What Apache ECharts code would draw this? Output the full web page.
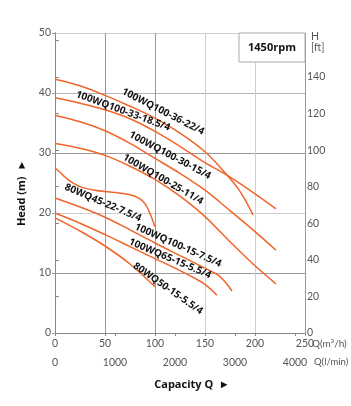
<!DOCTYPE html>
<html><head><meta charset="utf-8">
<script src="https://cdn.jsdelivr.net/npm/echarts@6/dist/echarts.min.js"></script>
<style>html,body{margin:0;padding:0;background:#fff}#c{width:351px;height:406px}</style>
</head><body><div id="c"></div>
<script>
// ---- data (Q in m3/h, H in m) ----
const seriesNames = ['100WQ100-36-22/4','100WQ100-33-18.5/4','100WQ100-30-15/4','100WQ100-25-11/4','80WQ45-22-7.5/4','100WQ100-15-7.5/4','100WQ65-15-5.5/4','80WQ50-15-5.5/4'];
const q36 = [0,25,50,75,100,125,150,170,185,198];
const h36 = [42.3,41.2,39.6,37.8,35.8,33.3,30.2,26.7,23.6,19.7];
const q33 = [0,25,50,75,100,125,150,172,200,221];
const h33 = [39.2,38.3,37.2,35.7,33.6,31.1,28.4,26.3,23.2,20.7];
const q30 = [0,25,50,75,100,125,150,175,200,221];
const h30 = [36.3,35.2,33.7,31.6,29.1,26.6,23.8,20.4,16.9,13.8];
const q25 = [0,25,50,75,100,125,150,175,200,221];
const h25 = [31.6,30.8,29.6,27.8,25.6,22.8,19.4,15.2,11.2,8.2];
const q45 = [0,5,10,15,25,40,55,70,80,87,92,96,100];
const h45 = [27.5,26.8,26.0,25.3,24.4,23.8,23.5,23.2,22.8,22.1,21.0,19.5,17.7];
const q15 = [0,25,50,75,100,125,150,165,177];
const h15 = [22.5,21.0,19.3,17.2,15.0,12.9,10.8,9.4,7.0];
const q65 = [0,25,50,75,100,125,140,150,162];
const h65 = [20.0,18.3,16.4,14.4,12.4,10.4,9.1,8.1,6.3];
const q50 = [0,25,50,75,100];
const h50 = [19.2,17.0,14.5,11.5,7.7];
const curvesQ = [q36,q33,q30,q25,q45,q15,q65,q50];
const curvesH = [h36,h33,h30,h25,h45,h15,h65,h50];
// axis ticks
const xTicksM3h = [0,50,100,150,200,250];
const xTicksLmin = [0,1000,2000,3000,4000];
const yTicksM = [0,10,20,30,40,50];
const yTicksFt = [0,20,40,60,80,100,120,140];
// curve label anchors in data units [Q, H, angleDeg]
const labelSpots = [[108,36.9,27],[68,37.0,20],[115,29.6,28],[108,25.6,30],[48,21.7,23],[123,14.6,24],[115,12.4,23],[113,7.4,35]];

const ORANGE = '#f0652a';
const FONT = '"Open Sans", sans-serif';
const AXF = 'Lato, sans-serif';
const chart = echarts.init(document.getElementById('c'), null, {renderer:'canvas'});
const series = curvesQ.map((qs,i)=>({
  type:'line', name:seriesNames[i], xAxisIndex:0, yAxisIndex:0,
  data: qs.map((q,j)=>[q,curvesH[i][j]]),
  smooth:0.35, showSymbol:false, symbol:'none',
  lineStyle:{color:ORANGE,width:1.5}, z:3, silent:true
}));
const lmMax = 250*1000/60;
const ftMax = 50/0.3048;
chart.setOption({
  animation:false,
  backgroundColor:'#fff',
  grid:{left:55,right:46,top:33,bottom:73,containLabel:false},
  xAxis:[{
    type:'value',min:xTicksM3h[0],max:xTicksM3h[xTicksM3h.length-1],interval:50,position:'bottom',
    axisLine:{show:true,lineStyle:{color:'#888',width:1}},
    axisTick:{show:true,length:3,lineStyle:{color:'#888'}},
    axisLabel:{color:'#555',fontSize:10.5,fontFamily:AXF,margin:5},
    splitLine:{show:true,lineStyle:{color:['#999','#999','#999','#cfcfcf','#cfcfcf','#999'],width:1}}
  },{
    type:'value',min:0,max:lmMax,interval:1000,position:'bottom',offset:19,
    axisLine:{show:true,lineStyle:{color:'#888',width:1}},
    axisTick:{show:true,length:3,lineStyle:{color:'#888'}},
    axisLabel:{color:'#555',fontSize:10.5,fontFamily:AXF,margin:5,showMaxLabel:false,
      formatter:v=> xTicksLmin.includes(Math.round(v)) ? String(Math.round(v)) : ''},
    splitLine:{show:false}
  }],
  yAxis:[{
    type:'value',min:0,max:50,interval:10,position:'left',
    axisLine:{show:true,lineStyle:{color:'#888',width:1}},
    axisTick:{show:true,length:3,lineStyle:{color:'#999'}},
    axisLabel:{color:'#555',fontSize:10.5,fontFamily:AXF,margin:4},
    splitLine:{show:true,lineStyle:{color:['#999','#999','#cfcfcf','#999','#b5b5b5','#cfcfcf'],width:1}}
  },{
    type:'value',min:0,max:ftMax,interval:20,position:'right',
    axisLine:{show:true,lineStyle:{color:'#888',width:1}},
    axisTick:{show:true,length:4,lineStyle:{color:'#888'}},
    axisLabel:{color:'#555',fontSize:10.5,fontFamily:AXF,margin:2,showMaxLabel:false,
      formatter:v=> yTicksFt.includes(Math.round(v)) ? String(Math.round(v)) : ''},
    splitLine:{show:false}
  }],
  series:series
});

const g = [];
// rpm box
g.push({type:'rect',shape:{x:239,y:33,width:66,height:29},style:{fill:'#fff',stroke:'#aaa',lineWidth:1},z:10});
g.push({type:'text',x:272,y:47.5,style:{text:'1450rpm',font:'bold 11px '+FONT,fill:'#111',align:'center',verticalAlign:'middle'},z:11});
// axis names
g.push({type:'text',x:311,y:36.5,style:{text:'H',font:'10.5px '+AXF,fill:'#555',align:'left',verticalAlign:'middle'},z:11});
g.push({type:'text',x:311,y:47.5,style:{text:'[ft]',font:'10.5px '+AXF,fill:'#555',align:'left',verticalAlign:'middle'},z:11});
g.push({type:'text',x:312,y:343.5,style:{text:'Q(m³/h)',font:'10px '+AXF,fill:'#555',align:'left',verticalAlign:'middle'},z:11});
g.push({type:'text',x:314,y:362,style:{text:'Q(l/min)',font:'9.5px '+AXF,fill:'#555',align:'left',verticalAlign:'middle'},z:11});
g.push({type:'text',x:192,y:385,style:{text:'Capacity Q  ►',font:'bold 11px '+FONT,fill:'#111',align:'center',verticalAlign:'middle'},z:11});
g.push({type:'text',x:22,y:193,rotation:Math.PI/2,style:{text:'Head (m)  ►',font:'bold 11px '+FONT,fill:'#111',align:'center',verticalAlign:'middle'},z:11});
// curve labels
labelSpots.forEach((s,i)=>{
  const p = chart.convertToPixel({xAxisIndex:0,yAxisIndex:0},[s[0],s[1]]);
  g.push({type:'text',x:p[0],y:p[1],rotation:-s[2]*Math.PI/180,
    style:{text:seriesNames[i],font:'bold 10px '+FONT,fill:'#111',align:'center',verticalAlign:'middle'},z:12});
});
chart.setOption({graphic:{elements:g}});
</script></body></html>
